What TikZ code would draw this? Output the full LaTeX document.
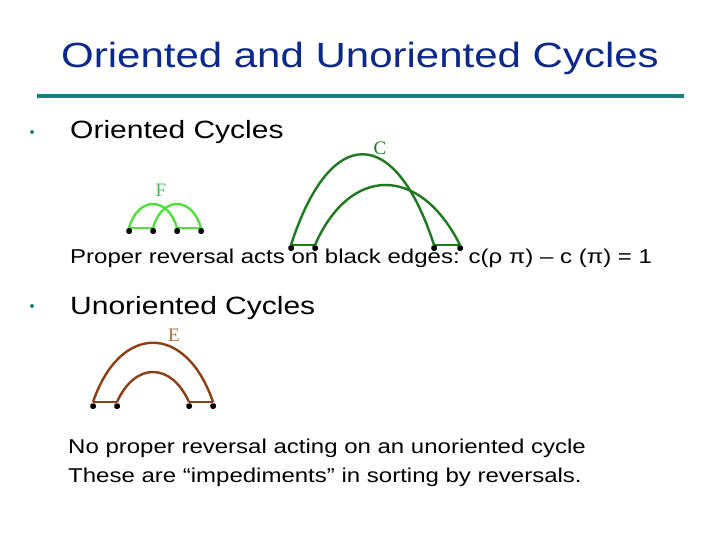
\documentclass[tikz,border=0pt]{standalone}
\usepackage{fontspec}
\setmainfont{Liberation Sans}[FakeStretch=1.2]
\newfontfamily\serifl{Liberation Serif}
\begin{document}
\begin{tikzpicture}[x=1pt,y=-1pt,
  txt/.style={anchor=base west,inner sep=0pt,font=#1},
  dotm/.style={fill=black,rectangle,rounded corners=1.5pt,inner sep=0pt,minimum size=5.5pt},
  arcF/.style={draw=Fgreen,line width=2.4pt},
  arcC/.style={draw=Cgreen,line width=2.4pt},
  arcE/.style={draw=Ebrown,line width=2.4pt},
  lbl/.style={inner sep=0pt,font=\serifl\fontsize{19}{22}\selectfont},
  bul/.style={fill=teal1,circle,inner sep=0pt,minimum size=4pt}]
\definecolor{titleblue}{RGB}{12,40,138}
\definecolor{teal1}{RGB}{24,128,128}
\definecolor{Fgreen}{RGB}{80,225,60}
\definecolor{Flbl}{RGB}{70,190,70}
\definecolor{Cgreen}{RGB}{30,120,30}
\definecolor{Ebrown}{RGB}{140,62,20}
\definecolor{Elbl}{RGB}{170,110,60}
\useasboundingbox (0,0) rectangle (720,540);
\fill[white] (0,0) rectangle (720,540);
% title
\node[anchor=base,inner sep=0pt,text=titleblue,font=\fontsize{35}{40}\selectfont] (title) at (360,68) {Oriented and Unoriented Cycles};
\coordinate (l1) at (37,96); \coordinate (l2) at (684,96);
\draw[teal1,line width=3.5pt] (l1) -- (l2);
% bullets and text
\node[bul] (b1) at (32,132) {};
\node[txt=\fontsize{25}{29}\selectfont] (t1) at (70,139) {Oriented Cycles};
\node[txt=\fontsize{20}{24}\selectfont] (t2) at (70,263) {Proper reversal acts on black edges: c(ρ π) – c (π) = 1};
\node[bul] (b2) at (32,306) {};
\node[txt=\fontsize{25}{29}\selectfont] (t3) at (70,314) {Unoriented Cycles};
\node[txt=\fontsize{20}{24}\selectfont] (t4) at (68,453) {No proper reversal acting on an unoriented cycle};
\node[txt=\fontsize{20}{24}\selectfont] (t5) at (68,482) {These are “impediments” in sorting by reversals.};
% F cycle
\coordinate (f1) at (129,228); \coordinate (f2) at (153,228);
\coordinate (f3) at (177,228); \coordinate (f4) at (201,228);
\draw[arcF] (f1) -- (f2) (f3) -- (f4);
\draw[arcF] (f1) .. controls (138,196) and (168,196) .. (f3);
\draw[arcF] (f2) .. controls (162,196) and (192,196) .. (f4);
\node[dotm] (F1) at (129,231) {}; \node[dotm] (F2) at (153,231) {};
\node[dotm] (F3) at (177,231) {}; \node[dotm] (F4) at (201,231) {};
\node[lbl,text=Flbl] (Fl) at (161,190) {F};
% C cycle
\coordinate (c1) at (291,245); \coordinate (c2) at (315,245);
\coordinate (c3) at (434,245); \coordinate (c4) at (460,245);
\draw[arcC] (c1) -- (c2) (c3) -- (c4);
\draw[arcC] (c1) .. controls (330,124) and (395,124) .. (c3);
\draw[arcC] (c2) .. controls (350,165) and (420,165) .. (c4);
\node[dotm] (C1) at (291,248) {}; \node[dotm] (C2) at (315,248) {};
\node[dotm] (C3) at (434,248) {}; \node[dotm] (C4) at (460,248) {};
\node[lbl,text=Cgreen] (Cl) at (380,148) {C};
% E cycle
\coordinate (e1) at (93,402); \coordinate (e2) at (117,402);
\coordinate (e3) at (189,402); \coordinate (e4) at (213,402);
\draw[arcE] (e1) -- (e2) (e3) -- (e4);
\draw[arcE] (e1) .. controls (120,323) and (186,323) .. (e4);
\draw[arcE] (e2) .. controls (135,362) and (171,362) .. (e3);
\node[dotm] (E1) at (93,406) {}; \node[dotm] (E2) at (117,406) {};
\node[dotm] (E3) at (189,406) {}; \node[dotm] (E4) at (213,406) {};
\node[lbl,text=Elbl] (El) at (174,335) {E};
\end{tikzpicture}
\end{document}
